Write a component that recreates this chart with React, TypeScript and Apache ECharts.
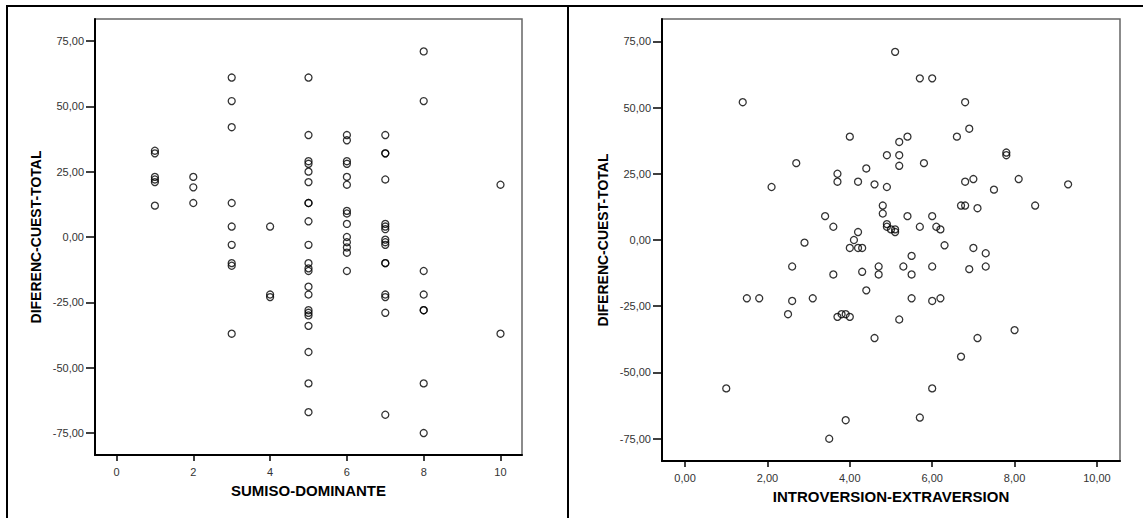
import React, { useEffect, useRef } from "react";
import * as echarts from "echarts";

// Tick values
const yTicks = [-75, -50, -25, 0, 25, 50, 75];
const xTicks = [0, 2, 4, 6, 8, 10];

// Left chart: SUMISO-DOMINANTE levels and DIFERENC-CUEST-TOTAL values per level
const sumisoLevels = [1, 2, 3, 4, 5, 6, 7, 8, 10];
const diffBySumiso = [
  [33, 32, 23, 22, 21, 12],
  [23, 19, 13],
  [61, 52, 42, 13, 4, -3, -10, -11, -37],
  [4, -22, -23],
  [61, 39, 29, 28, 25, 21, 13, 13, 6, -3, -10, -12, -13, -19, -22, -28, -29, -30, -34, -44, -56, -67],
  [39, 37, 29, 28, 23, 20, 10, 9, 5, 0, -2, -4, -6, -13],
  [39, 32, 32, 22, 5, 4, 3, -1, -2, -3, -10, -10, -22, -23, -29, -68],
  [71, 52, -13, -22, -28, -28, -56, -75],
  [20, -37],
];

// Right chart: INTROVERSION-EXTRAVERSION vs DIFERENC-CUEST-TOTAL
const introX = [
  5.1, 5.7, 6.0, 1.4, 6.8, 6.9, 4.0, 5.4, 6.6, 5.2,
  7.8, 7.8, 4.9, 5.2, 2.7, 5.8, 5.2, 4.4, 3.7, 3.7,
  4.2, 6.8, 7.0, 8.1, 4.6, 9.3, 2.1, 4.9, 7.5, 4.8,
  6.7, 6.8, 8.5, 7.1, 4.8, 3.4, 5.4, 6.0, 4.9, 3.6,
  4.9, 5.7, 6.1, 5.0, 5.1, 6.2, 5.1, 4.2, 4.1, 2.9,
  6.3, 4.0, 4.2, 4.3, 7.0, 7.3, 5.5, 2.6, 4.7, 5.3,
  6.0, 7.3, 6.9, 4.3, 3.6, 4.7, 5.5, 4.4, 1.5, 1.8,
  3.1, 5.5, 6.2, 2.6, 6.0, 2.5, 3.8, 3.9, 3.7, 4.0,
  5.2, 8.0, 4.6, 7.1, 6.7, 1.0, 6.0, 5.7, 3.9, 3.5,
];
const introDiff = [
  71, 61, 61, 52, 52, 42, 39, 39, 39, 37,
  33, 32, 32, 32, 29, 29, 28, 27, 25, 22,
  22, 22, 23, 23, 21, 21, 20, 20, 19, 13,
  13, 13, 13, 12, 10, 9, 9, 9, 6, 5,
  5, 5, 5, 4, 4, 4, 3, 3, 0, -1,
  -2, -3, -3, -3, -3, -5, -6, -10, -10, -10,
  -10, -10, -11, -12, -13, -13, -13, -19, -22, -22,
  -22, -22, -22, -23, -23, -28, -28, -28, -29, -29,
  -30, -34, -37, -37, -44, -56, -56, -67, -68, -75,
];

const FONT = "'Liberation Sans', Arial, sans-serif";
const yFmt = (v: number) => v.toFixed(2).replace(".", ",");

export default function App() {
  const ref = useRef<HTMLDivElement>(null);

  useEffect(() => {
    if (!ref.current) return;
    const chart = echarts.init(ref.current, null, { renderer: "svg" });

    const leftData: number[][] = [];
    sumisoLevels.forEach((lvl, i) => {
      diffBySumiso[i].forEach((v) => leftData.push([lvl, v]));
    });
    const rightData = introX.map((x, i) => [x, introDiff[i]]);

    const makeX = (gridIndex: number, name: string, fmt: (v: number) => string) => ({
      gridIndex,
      type: "value",
      min: -0.56,
      max: 10.56,
      name,
      nameLocation: "middle",
      nameGap: 28,
      nameTextStyle: { fontWeight: "bold", fontSize: 15, color: "#000", fontFamily: FONT },
      axisLine: { show: true, onZero: false, lineStyle: { color: "#000", width: 2 } },
      axisTick: { show: true, customValues: xTicks, length: 6, lineStyle: { color: "#000", width: 1.5 } },
      axisLabel: { customValues: xTicks, formatter: fmt, margin: 11, fontSize: 11, color: "#333", fontFamily: FONT },
      splitLine: { show: false },
    });
    const makeY = (gridIndex: number) => ({
      gridIndex,
      type: "value",
      min: -83.4,
      max: 83.4,
      name: "DIFERENC-CUEST-TOTAL",
      nameLocation: "middle",
      nameGap: 52,
      nameRotate: 90,
      nameTextStyle: { fontWeight: "bold", fontSize: 14, color: "#000", fontFamily: FONT },
      axisLine: { show: true, onZero: false, lineStyle: { color: "#000", width: 2 } },
      axisTick: { show: true, customValues: yTicks, length: 9, lineStyle: { color: "#000", width: 1.5 } },
      axisLabel: { customValues: yTicks, formatter: yFmt, margin: 11, fontSize: 11, color: "#333", fontFamily: FONT },
      splitLine: { show: false },
    });

    const markerStyle = {
      color: "rgba(0,0,0,0)",
      borderColor: "#000",
      borderWidth: 1.3,
    };

    chart.setOption({
      animation: false,
      backgroundColor: "#fff",
      grid: [
        { left: 95, top: 19, width: 427, height: 436, show: true, borderColor: "#666", borderWidth: 1.5, backgroundColor: "transparent" },
        { left: 662, top: 19, width: 458, height: 442, show: true, borderColor: "#666", borderWidth: 1.5, backgroundColor: "transparent" },
      ],
      xAxis: [
        makeX(0, "SUMISO-DOMINANTE", (v: number) => String(v)),
        makeX(1, "INTROVERSION-EXTRAVERSION", yFmt),
      ],
      yAxis: [makeY(0), makeY(1)],
      series: [
        { type: "scatter", xAxisIndex: 0, yAxisIndex: 0, data: leftData, symbol: "circle", symbolSize: 7, itemStyle: markerStyle },
        { type: "scatter", xAxisIndex: 1, yAxisIndex: 1, data: rightData, symbol: "circle", symbolSize: 7, itemStyle: markerStyle },
      ],
      graphic: [
        { type: "rect", shape: { x: 6, y: 5, width: 1137, height: 2 }, style: { fill: "#000" } },
        { type: "rect", shape: { x: 6, y: 5, width: 2, height: 513 }, style: { fill: "#000" } },
        { type: "rect", shape: { x: 567, y: 5, width: 2, height: 513 }, style: { fill: "#000" } },
      ],
    });

    return () => chart.dispose();
  }, []);

  return (
    <div
      ref={ref}
      style={{ position: "absolute", left: 0, top: 0, width: 1143, height: 518 }}
    />
  );
}
